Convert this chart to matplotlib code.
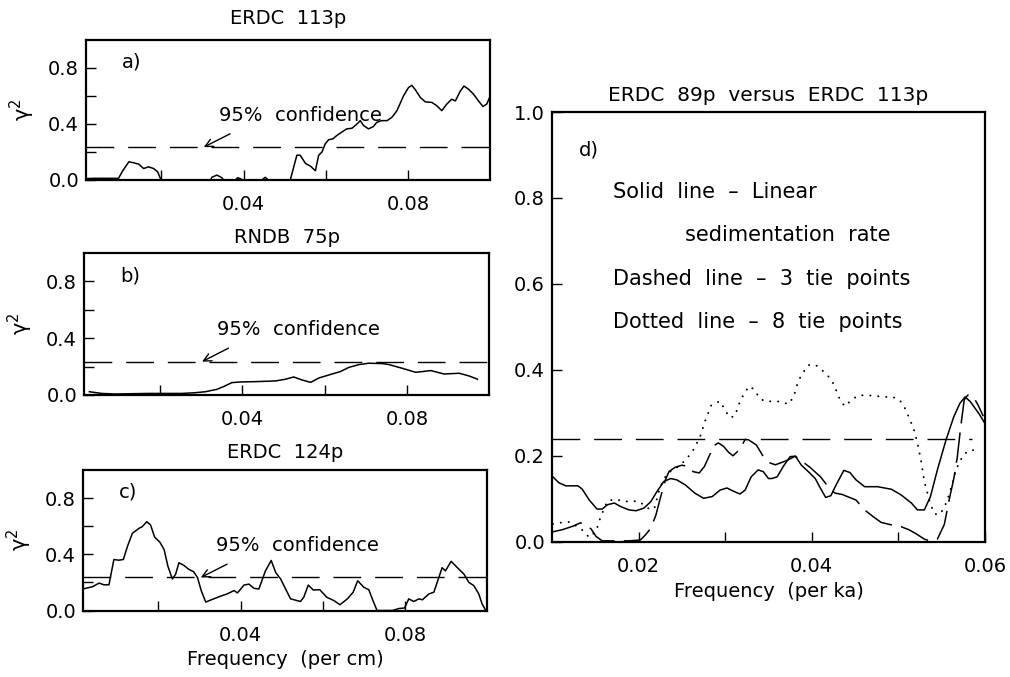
import matplotlib
matplotlib.use("Agg")
import matplotlib.pyplot as plt

plt.rcParams["font.family"] = ["DejaVu Sans"]
plt.rcParams["mathtext.default"] = "regular"

# ---- coherence spectra, depth domain (frequency per cm) ----
a_freq = [0.0016, 0.0036, 0.0096, 0.0105, 0.0121, 0.0133, 0.0145, 0.0157, 0.0169,
          0.0181, 0.0191, 0.0199, 0.0319, 0.0323, 0.0335, 0.0347, 0.0351, 0.0380,
          0.0385, 0.0392, 0.0396, 0.0444, 0.0452, 0.0460, 0.0513, 0.0529, 0.0537,
          0.0550, 0.0562, 0.0574, 0.0582, 0.0590, 0.0598, 0.0606, 0.0617, 0.0626,
          0.0638, 0.0650, 0.0663, 0.0675, 0.0683, 0.0691, 0.0703, 0.0715, 0.0723,
          0.0735, 0.0748, 0.0760, 0.0772, 0.0788, 0.0800, 0.0808, 0.0816, 0.0829,
          0.0841, 0.0857, 0.0869, 0.0881, 0.0893, 0.0905, 0.0914, 0.0926, 0.0935,
          0.0946, 0.0958, 0.0970, 0.0981, 0.0990, 0.0997]
a_coh = [0.010, 0.012, 0.012, 0.060, 0.130, 0.123, 0.113, 0.082, 0.094,
         0.082, 0.059, 0.000, 0.000, 0.020, 0.035, 0.016, 0.000, 0.000,
         0.016, 0.010, 0.000, 0.000, 0.019, 0.000, 0.000, 0.177, 0.177,
         0.118, 0.099, 0.066, 0.177, 0.200, 0.259, 0.287, 0.295, 0.318,
         0.342, 0.365, 0.370, 0.400, 0.424, 0.389, 0.365, 0.382, 0.412,
         0.424, 0.424, 0.448, 0.495, 0.601, 0.660, 0.676, 0.648, 0.589,
         0.558, 0.554, 0.530, 0.495, 0.542, 0.577, 0.565, 0.636, 0.671,
         0.648, 0.613, 0.565, 0.525, 0.542, 0.589]

b_freq = [0.0030, 0.0060, 0.0092, 0.0173, 0.0254, 0.0286, 0.0311, 0.0339, 0.0355,
          0.0375, 0.0396, 0.0432, 0.0481, 0.0505, 0.0525, 0.0545, 0.0566, 0.0586,
          0.0610, 0.0638, 0.0659, 0.0683, 0.0707, 0.0740, 0.0756, 0.0788, 0.0820,
          0.0837, 0.0857, 0.0889, 0.0926, 0.0950, 0.0970]
b_coh = [0.023, 0.011, 0.007, 0.011, 0.011, 0.016, 0.023, 0.040, 0.059,
         0.087, 0.092, 0.094, 0.099, 0.111, 0.127, 0.106, 0.089, 0.120,
         0.141, 0.165, 0.195, 0.214, 0.224, 0.221, 0.214, 0.188, 0.160,
         0.165, 0.172, 0.148, 0.153, 0.134, 0.111]

c_freq = [0.0019, 0.0040, 0.0056, 0.0068, 0.0080, 0.0092, 0.0104, 0.0115, 0.0125,
          0.0137, 0.0153, 0.0161, 0.0172, 0.0181, 0.0191, 0.0204, 0.0214, 0.0223,
          0.0234, 0.0242, 0.0250, 0.0262, 0.0274, 0.0286, 0.0295, 0.0304, 0.0315,
          0.0331, 0.0351, 0.0367, 0.0384, 0.0392, 0.0408, 0.0420, 0.0432, 0.0444,
          0.0460, 0.0474, 0.0485, 0.0497, 0.0509, 0.0521, 0.0545, 0.0553, 0.0564,
          0.0576, 0.0592, 0.0609, 0.0626, 0.0641, 0.0659, 0.0673, 0.0684, 0.0699,
          0.0711, 0.0721, 0.0731, 0.0768, 0.0784, 0.0798, 0.0808, 0.0820, 0.0833,
          0.0841, 0.0857, 0.0869, 0.0881, 0.0889, 0.0897, 0.0911, 0.0926, 0.0942,
          0.0954, 0.0966, 0.0978, 0.0986, 0.0995]
c_coh = [0.155, 0.169, 0.195, 0.183, 0.183, 0.363, 0.358, 0.363, 0.457,
         0.550, 0.585, 0.597, 0.632, 0.609, 0.522, 0.485, 0.433, 0.317,
         0.224, 0.259, 0.340, 0.321, 0.293, 0.275, 0.235, 0.142, 0.060,
         0.079, 0.102, 0.118, 0.142, 0.125, 0.181, 0.188, 0.158, 0.153,
         0.282, 0.356, 0.270, 0.224, 0.153, 0.083, 0.064, 0.094, 0.181,
         0.146, 0.148, 0.094, 0.071, 0.041, 0.083, 0.130, 0.212, 0.165,
         0.148, 0.071, 0.000, 0.000, 0.014, 0.018, 0.083, 0.064, 0.083,
         0.076, 0.118, 0.130, 0.235, 0.305, 0.282, 0.350, 0.305, 0.259,
         0.200, 0.177, 0.118, 0.048, 0.000]

# ---- ERDC 89p vs ERDC 113p, time domain (frequency per ka) ----
d_solid_freq = [0.0101, 0.0108, 0.0116, 0.0130, 0.0135, 0.0143, 0.0152, 0.0158, 0.0164,
                0.0172, 0.0179, 0.0189, 0.0197, 0.0206, 0.0214, 0.0221, 0.0229, 0.0237,
                0.0244, 0.0254, 0.0265, 0.0275, 0.0285, 0.0294, 0.0302, 0.0309, 0.0317,
                0.0323, 0.0330, 0.0338, 0.0344, 0.0350, 0.0354, 0.0360, 0.0367, 0.0375,
                0.0381, 0.0388, 0.0396, 0.0404, 0.0409, 0.0416, 0.0422, 0.0428, 0.0437,
                0.0444, 0.0451, 0.0461, 0.0476, 0.0492, 0.0503, 0.0515, 0.0522, 0.0530,
                0.0537, 0.0545, 0.0555, 0.0564, 0.0571, 0.0577, 0.0583, 0.0593, 0.0600]
d_solid_coh = [0.151, 0.137, 0.130, 0.130, 0.122, 0.097, 0.076, 0.076, 0.086,
               0.090, 0.082, 0.074, 0.072, 0.078, 0.093, 0.116, 0.140, 0.147,
               0.144, 0.132, 0.113, 0.101, 0.105, 0.120, 0.125, 0.118, 0.111,
               0.120, 0.151, 0.167, 0.163, 0.147, 0.147, 0.151, 0.175, 0.198,
               0.199, 0.178, 0.163, 0.147, 0.128, 0.103, 0.107, 0.132, 0.166,
               0.161, 0.144, 0.128, 0.128, 0.122, 0.109, 0.090, 0.074, 0.074,
               0.105, 0.167, 0.237, 0.291, 0.322, 0.337, 0.326, 0.298, 0.275]

d_dash_freq = [0.0101, 0.0112, 0.0124, 0.0133, 0.0145, 0.0151, 0.0158, 0.0170, 0.0189,
               0.0202, 0.0208, 0.0214, 0.0220, 0.0225, 0.0231, 0.0235, 0.0242, 0.0250,
               0.0258, 0.0263, 0.0270, 0.0276, 0.0283, 0.0286, 0.0292, 0.0298, 0.0304,
               0.0309, 0.0317, 0.0323, 0.0327, 0.0336, 0.0344, 0.0352, 0.0358, 0.0370,
               0.0381, 0.0390, 0.0398, 0.0410, 0.0422, 0.0427, 0.0435, 0.0451, 0.0461,
               0.0471, 0.0480, 0.0490, 0.0503, 0.0512, 0.0520, 0.0530, 0.0536, 0.0545,
               0.0553, 0.0559, 0.0564, 0.0568, 0.0572, 0.0576, 0.0580, 0.0586, 0.0592,
               0.0598]
d_dash_coh = [0.023, 0.028, 0.036, 0.044, 0.030, 0.012, 0.002, 0.002, 0.002,
              0.004, 0.016, 0.031, 0.062, 0.101, 0.144, 0.163, 0.173, 0.178,
              0.175, 0.163, 0.160, 0.175, 0.206, 0.222, 0.230, 0.222, 0.208,
              0.200, 0.215, 0.238, 0.237, 0.225, 0.198, 0.183, 0.179, 0.188,
              0.199, 0.185, 0.173, 0.151, 0.120, 0.113, 0.110, 0.097, 0.074,
              0.058, 0.045, 0.040, 0.035, 0.028, 0.019, 0.006, 0.002, 0.006,
              0.040, 0.101, 0.147, 0.197, 0.268, 0.330, 0.341, 0.339, 0.318,
              0.292]

d_dot_freq = [0.0101, 0.0112, 0.0121, 0.0135, 0.0143, 0.0151, 0.0156, 0.0164, 0.0174,
              0.0183, 0.0193, 0.0202, 0.0210, 0.0218, 0.0225, 0.0233, 0.0240, 0.0248,
              0.0256, 0.0263, 0.0271, 0.0277, 0.0284, 0.0294, 0.0300, 0.0305, 0.0311,
              0.0317, 0.0323, 0.0328, 0.0334, 0.0340, 0.0347, 0.0354, 0.0364, 0.0373,
              0.0379, 0.0384, 0.0389, 0.0396, 0.0404, 0.0412, 0.0419, 0.0425, 0.0432,
              0.0438, 0.0445, 0.0453, 0.0463, 0.0474, 0.0484, 0.0493, 0.0501, 0.0507,
              0.0513, 0.0518, 0.0522, 0.0526, 0.0530, 0.0536, 0.0541, 0.0546, 0.0552,
              0.0557, 0.0563, 0.0567, 0.0575, 0.0582, 0.0593]
d_dot_coh = [0.041, 0.045, 0.046, 0.027, 0.010, 0.025, 0.057, 0.095, 0.099,
             0.093, 0.095, 0.092, 0.078, 0.076, 0.128, 0.159, 0.167, 0.178,
             0.194, 0.213, 0.244, 0.282, 0.318, 0.327, 0.306, 0.289, 0.292,
             0.326, 0.349, 0.362, 0.353, 0.333, 0.326, 0.327, 0.326, 0.320,
             0.337, 0.372, 0.391, 0.411, 0.412, 0.399, 0.385, 0.368, 0.333,
             0.315, 0.328, 0.340, 0.341, 0.339, 0.337, 0.337, 0.331, 0.313,
             0.286, 0.260, 0.230, 0.190, 0.140, 0.095, 0.066, 0.062, 0.075,
             0.100, 0.140, 0.170, 0.202, 0.213, 0.213]

conf_cm = 0.235        # 95% confidence level, depth-domain panels
conf_ka = 0.24         # 95% confidence level, time-domain panel
conf_ka_end = 0.0585

titles_left = ["ERDC  113p", "RNDB  75p", "ERDC  124p"]
panel_tags = ["a)", "b)", "c)"]
left_series = [(a_freq, a_coh), (b_freq, b_coh), (c_freq, c_coh)]

FS = 14
fig = plt.figure(figsize=(10.1, 6.77), dpi=100)

# axes boxes in figure pixels: left, top, right, bottom
W, H = 1010.0, 677.0
boxes = [(86, 40, 490, 180), (84, 253, 489, 395), (83, 470, 487, 610.5)]
title_pads = [11.5, 7.5, 8.5]


def box_axes(l, t, r, b):
    return fig.add_axes([l / W, 1 - b / H, (r - l) / W, (b - t) / H])


def frame(ax):
    for s in ax.spines.values():
        s.set_linewidth(1.6)
    ax.tick_params(which="both", direction="in", length=7, width=1.0,
                   labelsize=FS, top=False, right=False)
    ax.tick_params(axis="x", which="both", pad=11)
    ax.tick_params(axis="y", which="both", pad=5)


for i, ax_box in enumerate(boxes):
    ax = box_axes(*ax_box)
    fx, fy = left_series[i]
    ax.plot(fx, fy, color="black", lw=1.1)
    ax.axhline(conf_cm, color="black", lw=1.0, dashes=(20, 10))
    ax.set_xlim(0.0017, 0.0998)
    ax.set_ylim(0, 1)
    ax.set_xticks([0.04, 0.08])
    ax.set_xticklabels(["0.04", "0.08"])
    ax.set_xticks([0.02, 0.06], minor=True)
    ax.set_yticks([0.0, 0.4, 0.8])
    ax.set_yticklabels(["0.0", "0.4", "0.8"])
    ax.set_yticks([0.2, 0.6], minor=True)
    frame(ax)
    ax.set_title(titles_left[i], fontsize=FS, pad=title_pads[i])
    ax.set_ylabel(r"$\gamma^2$", fontsize=FS + 1, labelpad=8)
    ax.text(0.0104, 0.84, panel_tags[i], fontsize=FS, va="center", ha="left")
    ax.text(0.0339, 0.46, "95%  confidence", fontsize=FS, va="center", ha="left")
    ax.annotate("", xy=(0.0303, conf_cm), xytext=(0.0367, 0.33),
                arrowprops=dict(arrowstyle="->", lw=1.0, color="black",
                                mutation_scale=14, shrinkA=0, shrinkB=0))
    if i == 2:
        ax.set_xlabel("Frequency  (per cm)", fontsize=FS, labelpad=4)

# ---- panel d ----
axd = box_axes(552, 112, 985, 541.7)
axd.plot(d_solid_freq, d_solid_coh, color="black", lw=1.1)
axd.plot(d_dash_freq, d_dash_coh, color="black", lw=1.1, dashes=(20, 6))
axd.plot(d_dot_freq, d_dot_coh, color="black", lw=1.4, dashes=(0.1, 4.0),
         dash_capstyle="round")
axd.plot([0.01, conf_ka_end], [conf_ka, conf_ka], color="black", lw=1.0,
         dashes=(20, 10))
axd.set_xlim(0.01, 0.06)
axd.set_ylim(0, 1)
axd.set_xticks([0.02, 0.04, 0.06])
axd.set_xticklabels(["0.02", "0.04", "0.06"])
axd.set_xticks([0.03, 0.05], minor=True)
axd.set_yticks([0.0, 0.2, 0.4, 0.6, 0.8, 1.0])
axd.set_yticklabels(["0.0", "0.2", "0.4", "0.6", "0.8", "1.0"])
frame(axd)
axd.set_title("ERDC  89p  versus  ERDC  113p", fontsize=FS + 0.5, pad=8)
axd.set_xlabel("Frequency  (per ka)", fontsize=FS, labelpad=4)
FSD = 15
axd.text(0.0131, 0.911, "d)", fontsize=FS, va="center", ha="left")
axd.text(0.0171, 0.814, "Solid  line  –  Linear", fontsize=FSD, va="center", ha="left")
axd.text(0.0254, 0.713, "sedimentation  rate", fontsize=FSD, va="center", ha="left")
axd.text(0.0171, 0.611, "Dashed  line  –  3  tie  points", fontsize=FSD, va="center", ha="left")
axd.text(0.0171, 0.512, "Dotted  line  –  8  tie  points", fontsize=FSD, va="center", ha="left")

fig.savefig("out.png", dpi=100, facecolor="white")
